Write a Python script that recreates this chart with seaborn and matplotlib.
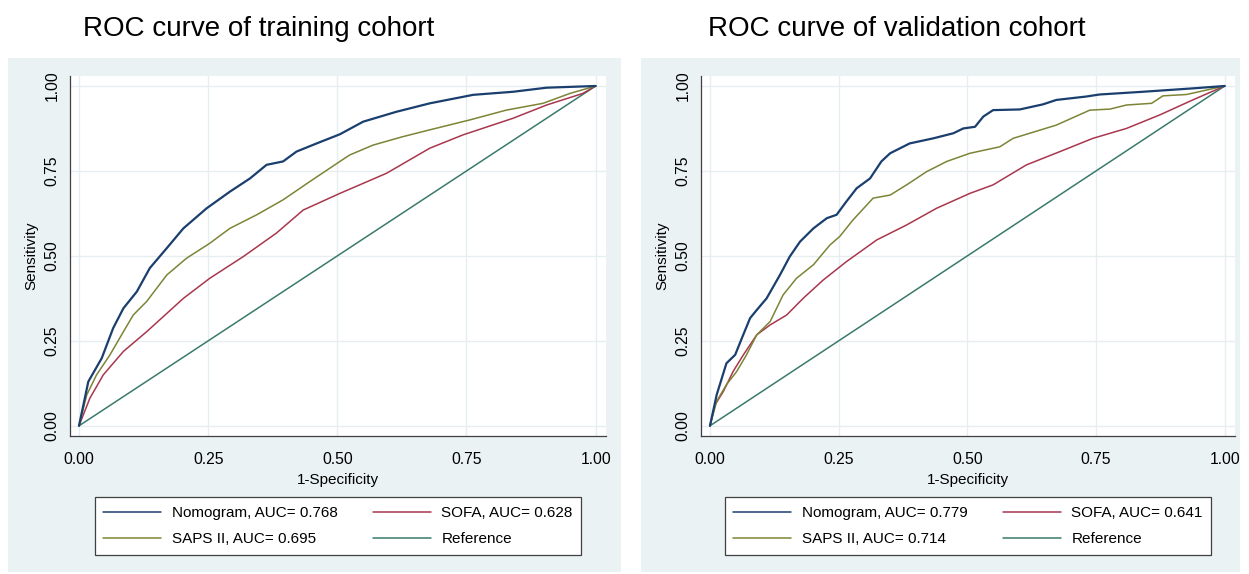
import matplotlib
matplotlib.use("Agg")
import matplotlib.pyplot as plt
from matplotlib.patches import Rectangle
import seaborn as sns
import pandas as pd

# =========================
# DATA
# =========================
models = ["Nomogram", "SAPS II", "SOFA", "Reference"]

# training cohort
train_nomo_x = [0, 0.018, 0.044, 0.066, 0.086, 0.112, 0.137, 0.170, 0.202, 0.247, 0.292, 0.331,
                0.363, 0.395, 0.421, 0.460, 0.505, 0.550, 0.614, 0.679, 0.763, 0.840, 0.905, 1]
train_nomo_y = [0, 0.130, 0.199, 0.287, 0.346, 0.395, 0.464, 0.523, 0.581, 0.640, 0.689, 0.728,
                0.768, 0.778, 0.807, 0.831, 0.858, 0.895, 0.924, 0.949, 0.974, 0.983, 0.995, 1]
train_saps_x = [0, 0.015, 0.034, 0.060, 0.086, 0.105, 0.131, 0.170, 0.208, 0.253, 0.292, 0.344,
                0.395, 0.447, 0.505, 0.524, 0.569, 0.627, 0.679, 0.756, 0.827, 0.898, 0.950, 1]
train_saps_y = [0, 0.091, 0.150, 0.209, 0.277, 0.326, 0.366, 0.444, 0.493, 0.537, 0.581, 0.621,
                0.665, 0.719, 0.778, 0.797, 0.826, 0.851, 0.871, 0.900, 0.929, 0.949, 0.978, 1]
train_sofa_x = [0, 0.021, 0.047, 0.086, 0.131, 0.202, 0.253, 0.318, 0.382, 0.434, 0.505, 0.595,
                0.679, 0.743, 0.840, 0.905, 0.975, 1]
train_sofa_y = [0, 0.081, 0.150, 0.219, 0.277, 0.375, 0.434, 0.498, 0.567, 0.635, 0.684, 0.743,
                0.817, 0.856, 0.905, 0.944, 0.978, 1]
train_auc = ["0.768", "0.695", "0.628"]

# validation cohort
valid_nomo_x = [0, 0.013, 0.023, 0.032, 0.049, 0.062, 0.078, 0.091, 0.110, 0.136, 0.155, 0.175,
                0.201, 0.227, 0.246, 0.265, 0.285, 0.311, 0.333, 0.350, 0.388, 0.434, 0.473,
                0.492, 0.515, 0.531, 0.550, 0.602, 0.647, 0.673, 0.731, 0.757, 0.841, 0.938, 1]
valid_nomo_y = [0, 0.091, 0.140, 0.184, 0.209, 0.258, 0.317, 0.341, 0.375, 0.444, 0.498, 0.542,
                0.581, 0.611, 0.621, 0.660, 0.699, 0.728, 0.778, 0.802, 0.831, 0.846, 0.861,
                0.875, 0.880, 0.910, 0.929, 0.931, 0.946, 0.959, 0.969, 0.975, 0.983, 0.993, 1]
valid_saps_x = [0, 0.013, 0.032, 0.052, 0.071, 0.091, 0.117, 0.142, 0.168, 0.201, 0.233, 0.252,
                0.278, 0.317, 0.350, 0.382, 0.421, 0.460, 0.505, 0.563, 0.589, 0.673, 0.738,
                0.777, 0.809, 0.858, 0.880, 0.926, 1]
valid_saps_y = [0, 0.072, 0.121, 0.160, 0.209, 0.268, 0.307, 0.385, 0.434, 0.474, 0.532, 0.557,
                0.606, 0.670, 0.679, 0.709, 0.748, 0.778, 0.802, 0.821, 0.846, 0.885, 0.929,
                0.932, 0.944, 0.949, 0.971, 0.975, 1]
valid_sofa_x = [0, 0.010, 0.026, 0.045, 0.065, 0.091, 0.117, 0.149, 0.181, 0.220, 0.265, 0.324,
                0.382, 0.440, 0.505, 0.550, 0.615, 0.680, 0.744, 0.809, 0.874, 0.938, 1]
valid_sofa_y = [0, 0.062, 0.101, 0.160, 0.209, 0.268, 0.297, 0.326, 0.375, 0.429, 0.483, 0.547,
                0.591, 0.640, 0.684, 0.709, 0.768, 0.807, 0.846, 0.875, 0.915, 0.959, 1]
valid_auc = ["0.779", "0.714", "0.641"]

ref_x = [0, 1]
ref_y = [0, 1]

ticks = [0, 0.25, 0.5, 0.75, 1.0]
tick_labels = ["0.00", "0.25", "0.50", "0.75", "1.00"]

colors = {"Nomogram": "#1a3f6e", "SAPS II": "#7d8436", "SOFA": "#a8374e", "Reference": "#3a7a6c"}
widths = {"Nomogram": 1.6, "SAPS II": 1.1, "SOFA": 1.1, "Reference": 1.1}

# =========================
# STYLE
# =========================
sns.set_theme(style="white")
plt.rcParams["font.family"] = ["Liberation Sans", "DejaVu Sans"]
plt.rcParams["text.color"] = "black"
plt.rcParams["axes.labelcolor"] = "black"
BG = "#eaf2f3"

W, H = 1249, 574
fig = plt.figure(figsize=(W / 100, H / 100), dpi=100)
fig.patch.set_facecolor("white")


def fx(px):
    return px / W


def fy(py):
    return 1 - py / H


# grey-blue graph regions, behind the axes
for x0, x1 in [(8, 621), (641, 1240)]:
    fig.patches.append(Rectangle((fx(x0), fy(572)), fx(x1 - x0), (572 - 58) / H,
                                 transform=fig.transFigure, facecolor=BG,
                                 edgecolor="none", zorder=-5))


def long_form(nomo_x, nomo_y, saps_x, saps_y, sofa_x, sofa_y):
    parts = []
    for name, xs, ys in [("Nomogram", nomo_x, nomo_y), ("SAPS II", saps_x, saps_y),
                         ("SOFA", sofa_x, sofa_y), ("Reference", ref_x, ref_y)]:
        parts.append(pd.DataFrame({"fpr": xs, "tpr": ys, "model": name}))
    return pd.concat(parts, ignore_index=True)


def draw_panel(rect, df, auc, title, title_px):
    ax = fig.add_axes(rect)
    ax.set_facecolor("white")
    # reference first so it sits below the others
    for name in ["Reference", "SOFA", "SAPS II", "Nomogram"]:
        sub = df[df["model"] == name]
        sns.lineplot(data=sub, x="fpr", y="tpr", ax=ax, color=colors[name],
                     linewidth=widths[name], estimator=None, sort=False, legend=False)

    ax.set_xlim(-0.018, 1.02)
    ax.set_ylim(-0.03, 1.03)
    ax.set_xticks(ticks)
    ax.set_xticklabels(tick_labels)
    ax.set_yticks(ticks)
    ax.set_yticklabels(tick_labels, rotation=90, va="center")
    ax.grid(True, color="#e6eef0", linewidth=1.0)
    ax.set_axisbelow(True)
    for side in ["top", "right"]:
        ax.spines[side].set_visible(False)
    for side in ["left", "bottom"]:
        ax.spines[side].set_color("#404040")
        ax.spines[side].set_linewidth(0.9)
    ax.tick_params(axis="both", direction="out", length=5.5, width=0.9,
                   color="#404040", labelsize=11.3, labelcolor="black")
    ax.tick_params(axis="x", pad=6)
    ax.tick_params(axis="y", pad=2)
    ax.set_xlabel("1-Specificity", fontsize=11, labelpad=4)
    ax.set_ylabel("Sensitivity", fontsize=11, labelpad=4)

    fig.text(fx(title_px), fy(29), title, fontsize=20, ha="left", va="center",
             color="black")

    # legend
    handles = {l.get_color(): l for l in ax.get_lines()}
    hs = [handles[colors[m]] for m in models]
    labels = [f"Nomogram, AUC= {auc[0]}", f"SAPS II, AUC= {auc[1]}",
              f"SOFA, AUC= {auc[2]}", "Reference"]
    leg = fig.legend(hs, labels, ncol=2, loc="center",
                     bbox_to_anchor=(rect[0] + rect[2] / 2, fy(526)),
                     fontsize=11, frameon=True, fancybox=False, shadow=False,
                     framealpha=1, facecolor="white",
                     handlelength=3.8, handletextpad=0.7, columnspacing=2.3,
                     labelspacing=0.8, borderpad=0.55)
    leg.get_frame().set_edgecolor("#404040")
    leg.get_frame().set_linewidth(0.9)
    for line in leg.get_lines():
        line.set_linewidth(1.1)
    return ax


train_df = long_form(train_nomo_x, train_nomo_y, train_saps_x, train_saps_y,
                     train_sofa_x, train_sofa_y)
valid_df = long_form(valid_nomo_x, valid_nomo_y, valid_saps_x, valid_saps_y,
                     valid_sofa_x, valid_sofa_y)

draw_panel([fx(69.7), fy(436), fx(606 - 69.7), (436 - 75.8) / H],
           train_df, train_auc, "ROC curve of training cohort", 83)
draw_panel([fx(700.7), fy(436), fx(1235 - 700.7), (436 - 75.8) / H],
           valid_df, valid_auc, "ROC curve of validation cohort", 708)

fig.savefig("out.png", dpi=100, facecolor="white")
